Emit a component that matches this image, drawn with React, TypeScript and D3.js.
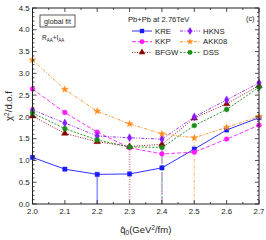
import React, { useRef, useEffect } from 'react';
import * as d3 from 'd3';

// q0 grid (GeV^2/fm)
const qhat = [2.0, 2.1, 2.2, 2.3, 2.4, 2.5, 2.6, 2.7];

// chi^2 / d.o.f per fragmentation function set
const kre = [1.07, 0.80, 0.68, 0.69, 0.83, 1.26, 1.70, 1.98];
const kkp = [2.64, 2.10, 1.65, 1.29, 1.15, 1.19, 1.49, 1.81];
const bfgw = [2.02, 1.62, 1.43, 1.32, 1.37, 1.97, 2.30, 2.72];
const hkns = [2.16, 1.86, 1.56, 1.52, 1.49, 2.00, 2.39, 2.78];
const akk08 = [3.31, 2.63, 2.13, 1.84, 1.61, 1.52, 1.76, 2.01];
const dss = [2.09, 1.73, 1.47, 1.31, 1.30, 1.80, 2.17, 2.68];

const xTicks = [2.0, 2.1, 2.2, 2.3, 2.4, 2.5, 2.6, 2.7];
const yTicks = [0.0, 0.5, 1.0, 1.5, 2.0, 2.5, 3.0, 3.5, 4.0, 4.5];

interface Series {
    name: string;
    values: number[];
    color: string;
    dash: string;
    symbol: d3.SymbolType;
}

const series: Series[] = [
    { name: 'KRE', values: kre, color: '#1a1aff', dash: '', symbol: d3.symbolSquare },
    { name: 'KKP', values: kkp, color: '#ff1aff', dash: '4,2', symbol: d3.symbolCircle },
    { name: 'BFGW', values: bfgw, color: '#8b0000', dash: '1,1.5', symbol: d3.symbolTriangle },
    { name: 'HKNS', values: hkns, color: '#8a1aff', dash: '3,1.5,1,1.5,1,1.5', symbol: d3.symbolDiamond },
    { name: 'AKK08', values: akk08, color: '#ff8c1a', dash: '3,1.5,1,1.5', symbol: d3.symbolStar },
    { name: 'DSS', values: dss, color: '#1a8c1a', dash: '2,1.5', symbol: d3.symbolCircle },
];

const FONT = 'Liberation Sans, Arial, sans-serif';

const symSize = (s: Series) => (s.symbol === d3.symbolStar ? 15 : 19);

const drawChart = (svgEl: SVGSVGElement) => {
    const svg = d3.select(svgEl);
    svg.selectAll('*').remove();

    const left = 32.5, right = 259, top = 8, bottom = 204;

    const x = d3.scaleLinear().domain([2.0, 2.7]).range([left, right]);
    const y = d3.scaleLinear().domain([0, 4.5]).range([bottom, top]);

    // drop lines from each curve's minimum down to zero
    const drops = svg.append('g').attr('opacity', 0.45);
    series.forEach(s => {
        const i = d3.minIndex(s.values);
        drops.append('line')
            .attr('x1', x(qhat[i])).attr('x2', x(qhat[i]))
            .attr('y1', y(s.values[i])).attr('y2', y(0))
            .attr('stroke', s.color)
            .attr('stroke-width', 1.6)
            .attr('stroke-dasharray', s.name === 'KRE' ? '' : s.dash);
    });

    const line = d3.line<number>()
        .x((_, i) => x(qhat[i]))
        .y(d => y(d));

    series.forEach(s => {
        svg.append('path')
            .datum(s.values)
            .attr('d', line)
            .attr('fill', 'none')
            .attr('stroke', s.color)
            .attr('stroke-width', 0.9)
            .attr('stroke-dasharray', s.dash);
        svg.selectAll(null)
            .data(s.values)
            .enter().append('path')
            .attr('transform', (d, i) => `translate(${x(qhat[i])},${y(d)})`)
            .attr('d', d3.symbol().type(s.symbol).size(symSize(s))())
            .attr('fill', s.color)
            .attr('stroke', s.color)
            .attr('stroke-width', 0.4);
    });

    // frame
    svg.append('rect')
        .attr('x', left).attr('y', top)
        .attr('width', right - left).attr('height', bottom - top)
        .attr('fill', 'none').attr('stroke', '#222').attr('stroke-width', 1);

    // inward ticks on all four sides
    const yMinor = d3.range(0, 4.5001, 0.1);
    const xMinor = d3.range(2.0, 2.7001, 0.05);
    const tk = svg.append('g').attr('stroke', '#222').attr('stroke-width', 0.8);
    yMinor.forEach(v => {
        const major = Math.abs(v * 2 - Math.round(v * 2)) < 1e-6;
        const len = major ? 4 : 2;
        tk.append('line').attr('x1', left).attr('x2', left + len).attr('y1', y(v)).attr('y2', y(v));
        tk.append('line').attr('x1', right).attr('x2', right - len).attr('y1', y(v)).attr('y2', y(v));
    });
    xMinor.forEach(v => {
        const major = Math.abs(v * 10 - Math.round(v * 10)) < 1e-6;
        const len = major ? 4 : 2;
        tk.append('line').attr('x1', x(v)).attr('x2', x(v)).attr('y1', bottom).attr('y2', bottom - len);
        tk.append('line').attr('x1', x(v)).attr('x2', x(v)).attr('y1', top).attr('y2', top + len);
    });

    // tick labels
    svg.selectAll('.ylab')
        .data(yTicks)
        .enter().append('text')
        .attr('x', left - 3)
        .attr('y', d => y(d) + 2.7)
        .attr('text-anchor', 'end')
        .attr('font-family', FONT).attr('font-size', 7.8).attr('fill', '#222')
        .text(d => d.toFixed(1));
    svg.selectAll('.xlab')
        .data(xTicks)
        .enter().append('text')
        .attr('x', d => x(d))
        .attr('y', bottom + 10)
        .attr('text-anchor', 'middle')
        .attr('font-family', FONT).attr('font-size', 7.8).attr('fill', '#222')
        .text(d => d.toFixed(1));

    // axis titles
    const xt = svg.append('text')
        .attr('x', (left + right) / 2).attr('y', 233)
        .attr('text-anchor', 'middle')
        .attr('font-family', FONT).attr('font-size', 9.5).attr('fill', '#222');
    xt.append('tspan').text('q\u0302');
    xt.append('tspan').attr('font-size', 6.5).attr('dy', 2).text('0');
    xt.append('tspan').attr('dy', -2).text('(GeV');
    xt.append('tspan').attr('font-size', 6.5).attr('dy', -3.5).text('2');
    xt.append('tspan').attr('dy', 3.5).text('/fm)');

    const yt = svg.append('text')
        .attr('transform', `translate(12,${(top + bottom) / 2}) rotate(-90)`)
        .attr('text-anchor', 'middle')
        .attr('font-family', FONT).attr('font-size', 9.5).attr('fill', '#222');
    yt.append('tspan').text('\u03c7');
    yt.append('tspan').attr('font-size', 6.5).attr('dy', -3.5).text('2');
    yt.append('tspan').attr('dy', 3.5).text('/d.o.f');

    // annotations
    svg.append('rect')
        .attr('x', 40).attr('y', 15).attr('width', 35).attr('height', 12)
        .attr('fill', 'none').attr('stroke', '#333').attr('stroke-width', 0.8);
    svg.append('text')
        .attr('x', 57.5).attr('y', 24)
        .attr('text-anchor', 'middle')
        .attr('font-family', FONT).attr('font-size', 7.2).attr('fill', '#222')
        .text('global fit');
    const ra = svg.append('text')
        .attr('x', 42).attr('y', 40)
        .attr('font-family', FONT).attr('font-size', 6.5).attr('fill', '#222');
    ra.append('tspan').text('R');
    ra.append('tspan').attr('font-size', 4.5).attr('dy', 1.5).text('AA');
    ra.append('tspan').attr('dy', -1.5).text('+I');
    ra.append('tspan').attr('font-size', 4.5).attr('dy', 1.5).text('AA');

    svg.append('text')
        .attr('x', 128).attr('y', 22)
        .attr('font-family', FONT).attr('font-size', 7.6).attr('fill', '#222')
        .text('Pb+Pb at 2.76TeV');
    svg.append('text')
        .attr('x', 246).attr('y', 21)
        .attr('font-family', FONT).attr('font-size', 7.2).attr('fill', '#222')
        .text('(c)');

    // legend: two columns, three rows
    const legendOrder = ['KRE', 'HKNS', 'KKP', 'AKK08', 'BFGW', 'DSS'];
    legendOrder.forEach((name, k) => {
        const s = series.find(d => d.name === name)!;
        const col = k % 2, row = Math.floor(k / 2);
        const lx = col === 0 ? 132 : 180;
        const ly = 31 + row * 10.7;
        svg.append('line')
            .attr('x1', lx).attr('x2', lx + 20).attr('y1', ly).attr('y2', ly)
            .attr('stroke', s.color).attr('stroke-width', 0.9)
            .attr('stroke-dasharray', s.dash);
        svg.append('path')
            .attr('transform', `translate(${lx + 10},${ly})`)
            .attr('d', d3.symbol().type(s.symbol).size(symSize(s))())
            .attr('fill', s.color);
        svg.append('text')
            .attr('x', lx + 23).attr('y', ly + 2.7)
            .attr('font-family', FONT).attr('font-size', 7.8).attr('fill', '#222')
            .text(name);
    });
};

const App: React.FC = () => {
    const ref = useRef<SVGSVGElement>(null);

    useEffect(() => {
        if (ref.current) drawChart(ref.current);
    }, []);

    return (
        <svg
            ref={ref}
            width={266}
            height={240}
            style={{ position: 'absolute', left: 0, top: 0, background: '#fff' }}
        />
    );
};

export default App;
